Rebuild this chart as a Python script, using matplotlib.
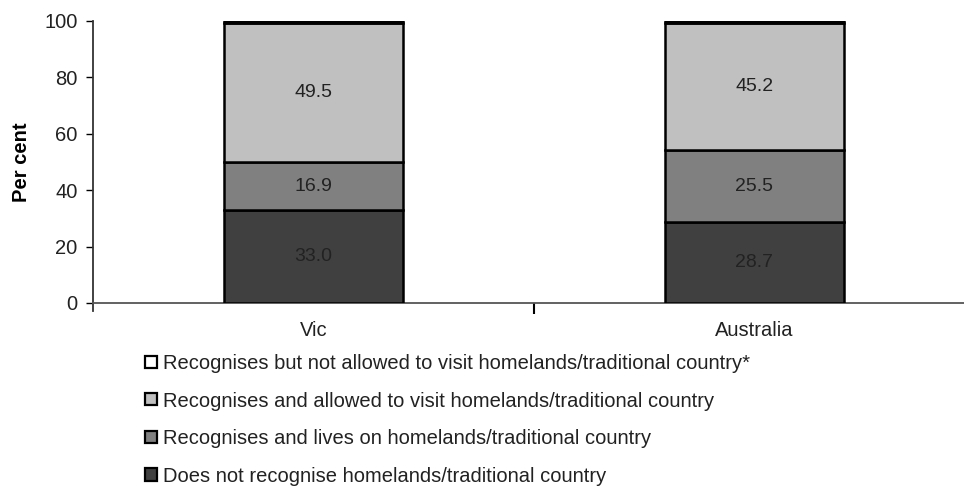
import matplotlib
matplotlib.use("Agg")
import matplotlib.pyplot as plt
from matplotlib.patches import Patch
import numpy as np

plt.rcParams['font.family'] = ['Liberation Sans', 'DejaVu Sans']

categories = ["Vic", "Australia"]
series_names = [
    "Does not recognise homelands/traditional country",
    "Recognises and lives on homelands/traditional country",
    "Recognises and allowed to visit homelands/traditional country",
    "Recognises but not allowed to visit homelands/traditional country*",
]
does_not = [33.0, 28.7]
lives_on = [16.9, 25.5]
allowed_visit = [49.5, 45.2]
not_allowed = [0.6, 0.6]
values = [does_not, lives_on, allowed_visit, not_allowed]
colors = ["#404040", "#808080", "#C0C0C0", "#FFFFFF"]
show_labels = [True, True, True, False]
yticks = [0, 20, 40, 60, 80, 100]

W, H = 964, 495
fig = plt.figure(figsize=(W / 100, H / 100), dpi=100)
left, right = 93 / W, 975 / W
bottom, top = 1 - 303 / H, 1 - 21 / H
ax = fig.add_axes([left, bottom, right - left, top - bottom])

x = np.arange(len(categories))
bottoms = np.zeros(len(categories))
for vals, col, lab, show in zip(values, colors, series_names, show_labels):
    vals = np.array(vals)
    ax.bar(x, vals, width=0.404, bottom=bottoms, color=col, edgecolor="black",
           linewidth=1.8, label=lab, zorder=3)
    if show:
        for xi, b, v in zip(x, bottoms, vals):
            ax.text(xi, b + v / 2, f"{v:.1f}", ha="center", va="center",
                    fontsize=14, color="#222222", zorder=4)
    bottoms += vals

ax.set_xlim(-0.5, 1.5)
ax.set_ylim(0, 100)
ax.set_yticks(yticks)
ax.set_yticklabels([str(t) for t in yticks], fontsize=14.5, color="#222222")
ax.set_xticks(x)
ax.set_xticklabels(categories, fontsize=14.5, color="#222222")
ax.tick_params(axis="x", length=0, pad=13)
ax.tick_params(axis="y", length=5, width=1, direction="out", pad=6)
ax.set_xticks([0.5], minor=True)
ax.tick_params(axis="x", which="minor", length=8, width=1.5, direction="out")
for s in ["top", "right"]:
    ax.spines[s].set_visible(False)
ax.spines["left"].set_linewidth(1.3)
ax.spines["bottom"].set_linewidth(1.3)
ax.spines["left"].set_bounds(-3, 100)
ax.spines["left"].set_color("#333333")
ax.spines["bottom"].set_color("#555555")
ax.set_ylabel("Per cent", fontsize=14.5, fontweight="bold")
ax.yaxis.set_label_coords(-(93 - 31) / (right * W - left * W), 0.5)

handles = [Patch(facecolor=c, edgecolor="black", linewidth=1.6) for c in colors[::-1]]
labels = series_names[::-1]
fig.legend(handles, labels, loc="upper left", bbox_to_anchor=(145 / W, 1 - 354 / H),
           frameon=False, fontsize=14.5, handlelength=0.6, handleheight=0.55,
           handletextpad=0.3, labelspacing=0.92, borderpad=0, borderaxespad=0,
           labelcolor="#222222")

fig.savefig("out.png", dpi=100)
